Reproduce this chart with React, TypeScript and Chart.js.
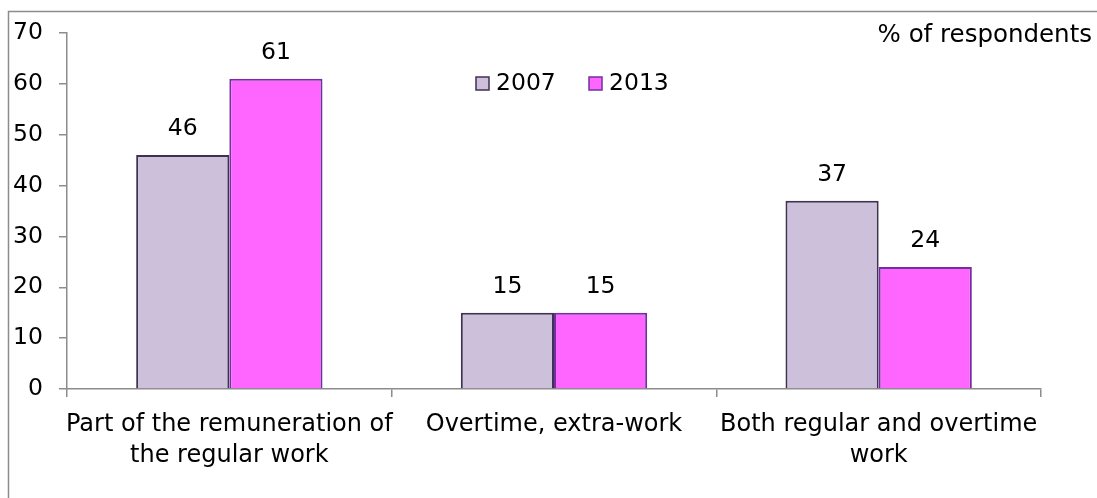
import React, { useEffect, useRef } from "react";
import { Chart, registerables } from "chart.js";

Chart.register(...registerables);

const categories: string[][] = [
  ["Part of the remuneration of", "the regular work"],
  ["Overtime, extra-work"],
  ["Both regular and overtime", "work"],
];
const seriesNames = ["2007", "2013"];
const values2007 = [46, 15, 37];
const values2013 = [61, 15, 24];
const yTicks = [0, 10, 20, 30, 40, 50, 60, 70];
const unitLabel = "% of respondents";

const FONT = "'DejaVu Sans', sans-serif";
const FILLS = ["#CCC0DA", "#FF66FF"];
const BORDERS = ["#403152", "#7030A0"];
const AXIS = "#8c8c8c";

export default function App() {
  const ref = useRef<HTMLCanvasElement | null>(null);

  useEffect(() => {
    if (!ref.current) return;
    const decor = {
      id: "decor",
      beforeDraw(chart: any) {
        const ctx = chart.ctx;
        ctx.save();
        ctx.strokeStyle = AXIS;
        ctx.lineWidth = 1.5;
        ctx.beginPath();
        ctx.moveTo(8.5, 498);
        ctx.lineTo(8.5, 11.5);
        ctx.lineTo(1097, 11.5);
        ctx.stroke();
        ctx.restore();
      },
      afterDraw(chart: any) {
        const ctx = chart.ctx;
        ctx.save();
        ctx.font = `23.5px ${FONT}`;
        ctx.fillStyle = "#000";
        // data labels
        chart.data.datasets.forEach((ds: any, i: number) => {
          const meta = chart.getDatasetMeta(i);
          meta.data.forEach((bar: any, j: number) => {
            ctx.textAlign = "center";
            ctx.textBaseline = "middle";
            ctx.fillText(String(ds.data[j]), bar.x, bar.y - 26);
          });
        });
        // unit label
        ctx.font = `24.5px ${FONT}`;
        ctx.textAlign = "right";
        ctx.textBaseline = "middle";
        ctx.fillText(unitLabel, 1092, 36);
        // legend
        ctx.font = `23.5px ${FONT}`;
        const items = [
          { x: 476, tx: 496 },
          { x: 589, tx: 609 },
        ];
        items.forEach((it, i) => {
          ctx.fillStyle = FILLS[i];
          ctx.fillRect(it.x, 77, 13, 13);
          ctx.strokeStyle = BORDERS[i];
          ctx.lineWidth = 1.5;
          ctx.strokeRect(it.x, 77, 13, 13);
          ctx.fillStyle = "#000";
          ctx.textAlign = "left";
          ctx.textBaseline = "middle";
          ctx.fillText(seriesNames[i], it.tx, 84);
        });
        ctx.restore();
      },
    };

    const chart = new Chart(ref.current, {
      type: "bar",
      data: {
        labels: categories,
        datasets: [
          {
            label: seriesNames[0],
            data: values2007,
            backgroundColor: FILLS[0],
            borderColor: BORDERS[0],
            borderWidth: 2,
            barPercentage: 1,
            categoryPercentage: 0.574,
          },
          {
            label: seriesNames[1],
            data: values2013,
            backgroundColor: FILLS[1],
            borderColor: BORDERS[1],
            borderWidth: 2,
            barPercentage: 1,
            categoryPercentage: 0.574,
          },
        ],
      },
      options: {
        responsive: false,
        animation: false,
        layout: { padding: { left: 0, right: 56, top: 33, bottom: 0 } },
        plugins: {
          legend: { display: false },
          tooltip: { enabled: false },
          title: { display: false },
        },
        scales: {
          x: {
            grid: {
              offset: true,
              drawOnChartArea: false,
              drawTicks: true,
              tickLength: 8,
              color: AXIS,
              lineWidth: 1.5,
            },
            border: { display: true, color: AXIS, width: 1.5 },
            ticks: {
              color: "#000",
              font: { family: FONT, size: 24, lineHeight: 1.3 },
              padding: 12,
              maxRotation: 0,
              autoSkip: false,
            },
            afterFit(scale: any) {
              scale.height = 109;
            },
          },
          y: {
            min: 0,
            max: 70,
            afterBuildTicks(scale: any) {
              scale.ticks = yTicks.map((v) => ({ value: v }));
            },
            grid: {
              drawOnChartArea: false,
              drawTicks: true,
              tickLength: 8,
              color: AXIS,
              lineWidth: 1.5,
            },
            border: { display: true, color: AXIS, width: 1.5 },
            ticks: {
              color: "#000",
              font: { family: FONT, size: 23.5 },
              padding: 16,
            },
            afterFit(scale: any) {
              scale.width = 67;
            },
          },
        },
      },
      plugins: [decor],
    });
    return () => chart.destroy();
  }, []);

  return (
    <div style={{ position: "absolute", left: 0, top: 0, width: 1097, height: 498, background: "#fff" }}>
      <canvas ref={ref} width={1097} height={498} style={{ display: "block", width: 1097, height: 498 }} />
    </div>
  );
}
